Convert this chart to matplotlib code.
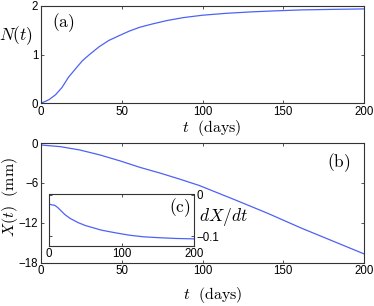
import numpy as np
import matplotlib
matplotlib.use("Agg")
import matplotlib.pyplot as plt

plt.rcParams['font.family'] = ['Liberation Sans', 'DejaVu Sans']
plt.rcParams['mathtext.fontset'] = 'cm'
plt.rcParams['axes.unicode_minus'] = True

# (a) N(t)
t_N = [0, 2.5, 5, 9, 13, 17, 21.5, 25.6, 29.7, 36, 42, 48.5, 54.5, 61, 69, 78,
       88, 100, 115, 131, 145, 162, 180, 200]
N = [0, 0.03, 0.07, 0.17, 0.32, 0.53, 0.71, 0.87, 0.99, 1.16, 1.29, 1.39, 1.48,
     1.56, 1.63, 1.70, 1.76, 1.81, 1.85, 1.88, 1.90, 1.92, 1.93, 1.94]

# (b) X(t) in mm
t_X = [0, 12, 24, 36.5, 49, 61, 74, 86, 98, 120, 140, 161, 180, 200]
X = [-0.3, -0.55, -1.05, -1.8, -2.7, -3.65, -4.55, -5.45, -6.4, -8.55, -10.55,
     -12.8, -14.7, -16.7]

# (c) dX/dt
t_dX = [0, 0, 2, 8, 12, 16, 22, 29, 40, 50, 60, 72, 90, 110, 130, 150, 175, 200]
dX = [0, -0.022, -0.024, -0.026, -0.031, -0.038, -0.048, -0.057, -0.067, -0.074,
      -0.079, -0.085, -0.091, -0.097, -0.101, -0.103, -0.105, -0.106]

col = '#4d62f5'
W, H = 374, 306
fig = plt.figure(figsize=(W/100, H/100), dpi=100)


def box(ax):
    for s in ax.spines.values():
        s.set_color('#333333')
        s.set_linewidth(0.8)
    ax.tick_params(direction='in', length=2.5, width=0.6, labelsize=8.3,
                   top=True, right=True, colors='#333333', labelcolor='black', pad=2)


def fx(px):
    return px / W


def fy(py):
    return 1 - py / H


ax1 = fig.add_axes([fx(41), fy(103), fx(364) - fx(41), fy(6) - fy(103)])
ax1.plot(t_N, N, color=col, lw=0.9)
ax1.set_xlim(0, 200)
ax1.set_ylim(0, 2)
ax1.set_xticks([0, 50, 100, 150, 200])
ax1.set_yticks([0, 1, 2])
box(ax1)

ax2 = fig.add_axes([fx(41), fy(262.5), fx(364) - fx(41), fy(143) - fy(262.5)])
ax2.plot(t_X, X, color=col, lw=0.9)
ax2.set_xlim(0, 200)
ax2.set_ylim(-18, 0)
ax2.set_xticks([0, 50, 100, 150, 200])
ax2.set_yticks([0, -6, -12, -18])
box(ax2)

ax3 = fig.add_axes([fx(49), fy(246), fx(194) - fx(49), fy(194.5) - fy(246)])
ax3.plot(t_dX, dX, color=col, lw=0.9)
ax3.set_xlim(0, 200)
ax3.set_ylim(-0.123, 0)
ax3.set_xticks([0, 100, 200])
ax3.set_yticks([0, -0.1])
box(ax3)
ax3.tick_params(labelleft=False, labelright=True, pad=1.5)
ax3.set_yticklabels(['0', '\u22120.1'])

fs = 11.5
fig.text(fx(16), fy(36), r'$N(t)$', fontsize=12.5, ha='center', va='center')
fig.text(fx(212), fy(128), r'$t\ \ \mathrm{(days)}$', fontsize=fs, ha='center', va='center')
fig.text(fx(213), fy(295), r'$t\ \ \mathrm{(days)}$', fontsize=fs, ha='center', va='center')
fig.text(fx(10), fy(197), r'$X(t)\ \ \mathrm{(mm)}$', fontsize=fs, ha='center',
         va='center', rotation=90)
fig.text(fx(63), fy(22.5), r'$\mathrm{(a)}$', fontsize=12.5, ha='center', va='center')
fig.text(fx(339), fy(162.5), r'$\mathrm{(b)}$', fontsize=12.5, ha='center', va='center')
fig.text(fx(180), fy(208), r'$\mathrm{(c)}$', fontsize=12.5, ha='center', va='center')
fig.text(fx(223), fy(217), r'$dX/dt$', fontsize=12.5, ha='center', va='center')

fig.savefig('out.png', dpi=100)
